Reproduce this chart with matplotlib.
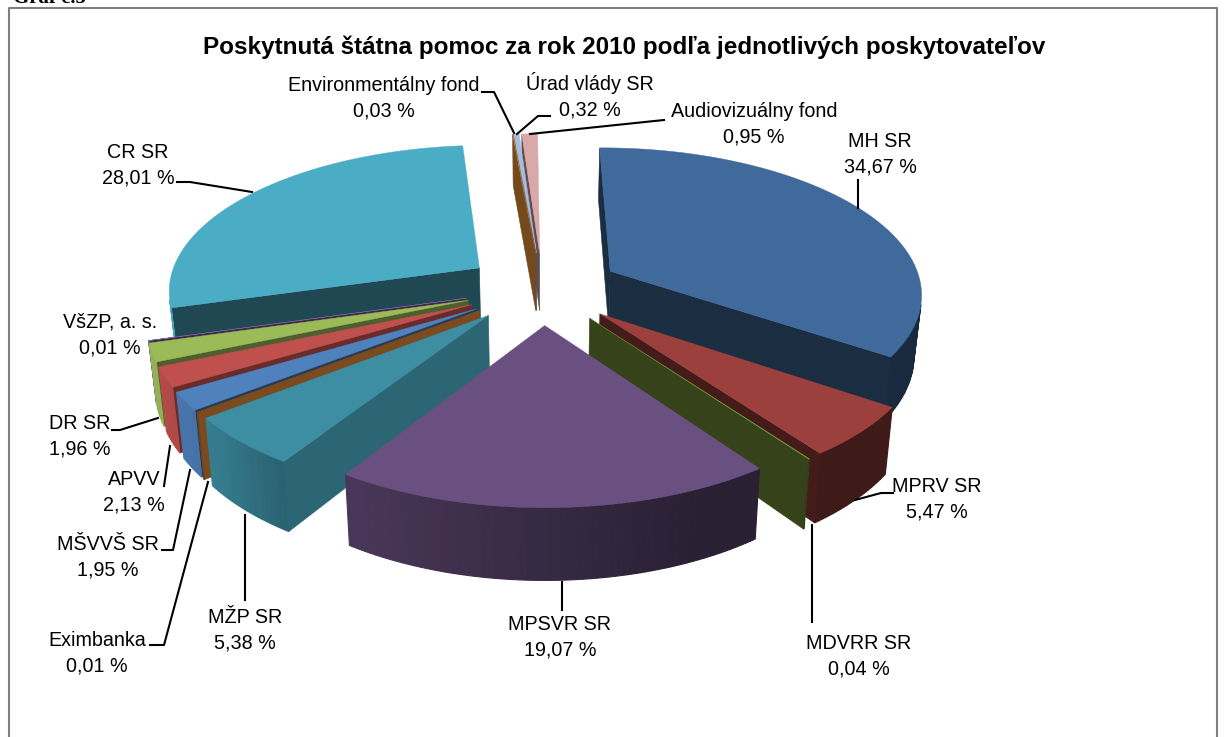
import matplotlib
matplotlib.use('Agg')
import matplotlib.pyplot as plt
import numpy as np
from matplotlib.colors import to_rgb

plt.rcParams['font.family'] = ['Liberation Sans', 'DejaVu Sans']

# podiel poskytovatelov v % (v smere hodinovych ruciciek od vrchu)
providers = ['MH SR', 'MPRV SR', 'MDVRR SR', 'MPSVR SR', 'MŽP SR', 'Eximbanka', 'MŠVVŠ SR',
             'APVV', 'DR SR', 'VšZP, a. s.', 'CR SR', 'Environmentálny fond',
             'Úrad vlády SR', 'Audiovizuálny fond']
shares = [34.67, 5.47, 0.04, 19.07, 5.38, 0.01, 1.95, 2.13, 1.96, 0.01, 28.01, 0.03, 0.32, 0.95]
top_colors = ['#3F6A9B', '#9C403D', '#7C9A3C', '#6A5081', '#3D8DA3', '#7B4A1E', '#4F81BD',
              '#C0504D', '#9BBB59', '#8064A2', '#4BACC6', '#C07A30', '#A5BCE0', '#D9A8A8']
wall_shade = [0.42, 0.43, 0.43, 0.45, 0.72, 1.0, 0.45, 0.55, 0.5, 0.45, 0.42, 0.6, 0.45, 0.45]

# geometria 3D kolaca v pixeloch
CX, CY = 542.5, 288
RX, RY = 312, 145
PERSP = 0.14
EXPLODE = 0.25
HEIGHT = 60
ROTATION = -0.5
BOTTOM_X = 0.98


def project(u, v, bottom=False):
    s = 1 / (1 + PERSP * v)
    if bottom:
        return CX + RX * u * s * BOTTOM_X, CY - RY * v * s + HEIGHT * s
    return CX + RX * u * s, CY - RY * v * s


def shade(color, f):
    return tuple(np.array(to_rgb(color)) * f)


def signed_area(xs, ys):
    xs, ys = np.asarray(xs), np.asarray(ys)
    return 0.5 * np.sum(xs * np.roll(ys, -1) - np.roll(xs, -1) * ys)


def side_quad(p, q):
    x0, y0 = project(*p)
    x1, y1 = project(*q)
    x2, y2 = project(*q, bottom=True)
    x3, y3 = project(*p, bottom=True)
    return [x0, x1, x2, x3], [y0, y1, y2, y3]


def draw_slice(ax, start, end, color, wall_f):
    mid = np.radians((start + end) / 2)
    ax0 = EXPLODE * np.sin(mid)
    av0 = EXPLODE * np.cos(mid)
    th = np.radians(np.linspace(start, end, max(int(end - start) + 2, 2)))
    us = ax0 + np.sin(th)
    vs = av0 + np.cos(th)

    # radialne steny, iba tie otocene k divakovi
    for (iu, iv, sign) in ((us[0], vs[0], -1), (us[-1], vs[-1], 1)):
        xs, ys = side_quad((ax0, av0), (iu, iv))
        if signed_area(xs, ys) * sign > 0:
            ax.fill(xs, ys, color=shade(color, wall_f), lw=0.4, zorder=2)

    # vonkajsia stena po malych kuskoch kvoli prechodu farby
    for i in range(len(th) - 1):
        xs, ys = side_quad((us[i], vs[i]), (us[i + 1], vs[i + 1]))
        if signed_area(xs, ys) >= 0:
            continue
        f = np.interp(np.sin(th[i]), [-0.95, -0.75, -0.55, 0, 0.4], [0.95, 0.87, 0.7, 0.52, 0.4])
        ax.fill(xs, ys, color=shade(color, f), lw=0.8, zorder=2)

    # vrchna plocha
    px, py = project(np.r_[ax0, us], np.r_[av0, vs])
    ax.fill(px, py, color=color, lw=0.3, zorder=2)


fig = plt.figure(figsize=(12.25, 7.37), dpi=100)
ax = fig.add_axes([0, 0, 1, 1])
ax.set_xlim(0, 1225)
ax.set_ylim(737, 0)
ax.axis('off')

angles = np.cumsum([0] + shares) * 3.6 + ROTATION
mids = (angles[:-1] + angles[1:]) / 2
for i in np.argsort(-np.cos(np.radians(mids))):
    draw_slice(ax, angles[i], angles[i + 1], top_colors[i], wall_shade[i])

# ramik grafu
ax.plot([9, 9, 1217, 1217], [737, 8, 8, 737], color='#7F7F7F', lw=1.5, zorder=1)
ax.text(13, 3, 'Graf č.5', family=['Liberation Serif'], fontweight='bold', fontsize=15, ha='left', va='baseline')
ax.text(624, 47, 'Poskytnutá štátna pomoc za rok 2010 podľa jednotlivých poskytovateľov',
        fontsize=17.5, fontweight='bold', ha='center', va='center')

label_pos = {
    'MH SR': (880, 154), 'MPRV SR': (937, 499), 'MDVRR SR': (859, 656), 'MPSVR SR': (560, 637),
    'MŽP SR': (245, 630), 'Eximbanka': (97, 653), 'MŠVVŠ SR': (108, 557), 'APVV': (134, 492),
    'DR SR': (80, 436), 'VšZP, a. s.': (110, 335), 'CR SR': (138, 165),
    'Environmentálny fond': (384, 98), 'Úrad vlády SR': (590, 96), 'Audiovizuálny fond': (754, 124),
}
for name, val in zip(providers, shares):
    txt = name + '\n' + f'{val:.2f}'.replace('.', ',') + ' %'
    ax.text(*label_pos[name], txt, fontsize=14.2, ha='center', va='center', linespacing=1.45, zorder=5)

leaders = [
    ([482, 494, 514], [92, 92, 133]),
    ([550, 538, 517], [116, 116, 134]),
    ([664, 530], [120, 134]),
    ([858, 858], [180, 208]),
    ([893, 881, 855], [493, 493, 500]),
    ([812, 812], [525, 622]),
    ([562, 562], [582, 610]),
    ([245, 245], [515, 600]),
    ([208, 164, 150], [482, 645, 645]),
    ([190, 173, 162], [470, 550, 550]),
    ([170, 164], [446, 486]),
    ([112, 120, 158], [430, 430, 418]),
    ([177, 190, 252], [182, 182, 192]),
]
for xs, ys in leaders:
    ax.plot(xs, ys, color='black', lw=1.5, zorder=4)

fig.savefig('out.png', dpi=100)
plt.close()
